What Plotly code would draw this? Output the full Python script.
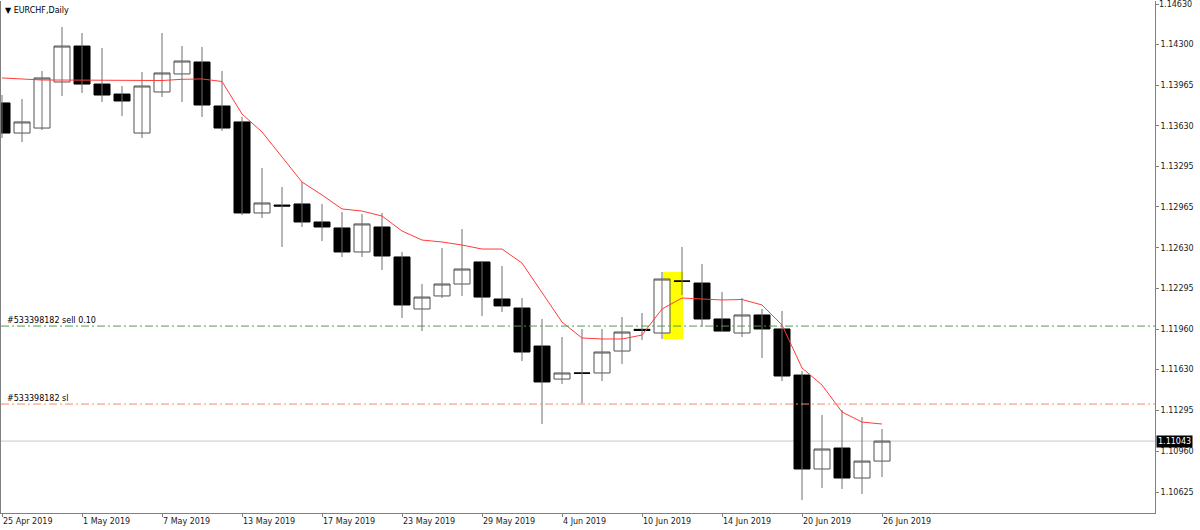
import plotly.graph_objects as go

# ---------------- data ----------------
dates = [
    "2019-04-25", "2019-04-26", "2019-04-29", "2019-04-30",
    "2019-05-01", "2019-05-02", "2019-05-03", "2019-05-06", "2019-05-07",
    "2019-05-08", "2019-05-09", "2019-05-10", "2019-05-13", "2019-05-14",
    "2019-05-15", "2019-05-16", "2019-05-17", "2019-05-20", "2019-05-21",
    "2019-05-22", "2019-05-23", "2019-05-24", "2019-05-27", "2019-05-28",
    "2019-05-29", "2019-05-30", "2019-05-31",
    "2019-06-03", "2019-06-04", "2019-06-05", "2019-06-06", "2019-06-07",
    "2019-06-10", "2019-06-11", "2019-06-12", "2019-06-13", "2019-06-14",
    "2019-06-17", "2019-06-18", "2019-06-19", "2019-06-20", "2019-06-21",
    "2019-06-24", "2019-06-25", "2019-06-26",
]

open_ = [1.13818, 1.13571, 1.13612, 1.13990, 1.14285, 1.13973, 1.13891, 1.13571, 1.13908,
         1.14056, 1.14154, 1.13793, 1.13662, 1.12915, 1.12980, 1.12989, 1.12841, 1.12792,
         1.12595, 1.12800, 1.12554, 1.12127, 1.12234, 1.12332, 1.12513, 1.12209, 1.12135,
         1.11823, 1.11552, 1.11602, 1.11602, 1.11782, 1.11960, 1.11930, 1.12357, 1.12340,
         1.12045, 1.11930, 1.12078, 1.11963, 1.11585, 1.10814, 1.10986, 1.10740, 1.10879]
high = [1.13883, 1.13850, 1.14080, 1.14441, 1.14392, 1.14269, 1.13957, 1.14072, 1.14392,
        1.14285, 1.14277, 1.14080, 1.13703, 1.13284, 1.13128, 1.13169, 1.12989, 1.12923,
        1.12907, 1.12915, 1.12595, 1.12332, 1.12628, 1.12783, 1.12521, 1.12480, 1.12217,
        1.12045, 1.11897, 1.11963, 1.11963, 1.12061, 1.12094, 1.12431, 1.12636, 1.12496,
        1.12266, 1.12217, 1.12127, 1.12111, 1.11618, 1.11257, 1.11298, 1.11241, 1.11142]
low = [1.13530, 1.13497, 1.13596, 1.13875, 1.13900, 1.13826, 1.13711, 1.13530, 1.13867,
       1.13826, 1.13703, 1.13588, 1.12898, 1.12874, 1.12636, 1.12800, 1.12685, 1.12554,
       1.12554, 1.12447, 1.12053, 1.11946, 1.12217, 1.12234, 1.12069, 1.12102, 1.11700,
       1.11183, 1.11511, 1.11355, 1.11536, 1.11676, 1.11872, 1.11881, 1.12242, 1.11979,
       1.11938, 1.11897, 1.11725, 1.11536, 1.10559, 1.10658, 1.10650, 1.10609, 1.10748]
close = [1.13571, 1.13662, 1.14023, 1.14285, 1.13973, 1.13883, 1.13834, 1.13957, 1.14064,
         1.14162, 1.13801, 1.13612, 1.12915, 1.12997, 1.12972, 1.12841, 1.12800, 1.12595,
         1.12825, 1.12562, 1.12160, 1.12225, 1.12332, 1.12455, 1.12225, 1.12152, 1.11774,
         1.11528, 1.11602, 1.11600, 1.11774, 1.11938, 1.11951, 1.12373, 1.12355, 1.12045,
         1.11946, 1.12078, 1.11963, 1.11577, 1.10814, 1.10978, 1.10740, 1.10879, 1.11043]

moving_avg = [1.14023, 1.14015, 1.14006, 1.14006, 1.14006, 1.14002, 1.14000, 1.14000, 1.14002,
              1.14012, 1.14015, 1.13994, 1.13727, 1.13580, 1.13374, 1.13169, 1.13063, 1.12948,
              1.12931, 1.12890, 1.12767, 1.12693, 1.12677, 1.12652, 1.12619, 1.12619, 1.12504,
              1.12258, 1.12020, 1.11889, 1.11881, 1.11881, 1.11913, 1.12127, 1.12217, 1.12209,
              1.12201, 1.12205, 1.12160, 1.11996, 1.11643, 1.11503, 1.11282, 1.11199, 1.11183]

x_tick_dates = ["2019-04-25", "2019-05-01", "2019-05-07", "2019-05-13", "2019-05-17", "2019-05-23",
                "2019-05-29", "2019-06-04", "2019-06-10", "2019-06-14", "2019-06-20", "2019-06-26"]
x_tick_labels = ["25 Apr 2019", "1 May 2019", "7 May 2019", "13 May 2019", "17 May 2019",
                 "23 May 2019", "29 May 2019", "4 Jun 2019", "10 Jun 2019", "14 Jun 2019",
                 "20 Jun 2019", "26 Jun 2019"]
y_tick_values = [1.14630, 1.14300, 1.13965, 1.13630, 1.13295, 1.12965, 1.12630,
                 1.12295, 1.11960, 1.11630, 1.11295, 1.10960, 1.10625]

symbol_title = "EURCHF,Daily"
order_label = "#533398182 sell 0.10"
sl_label = "#533398182 sl"
order_price = 1.11987
sl_price = 1.11347
bid_price = 1.11043
highlight_bar = 33

# ---------------- figure ----------------
FONT = "DejaVu Sans"
AXIS_GRAY = "#808080"
TEXT = "#1a1a1a"

fig = go.Figure()

# wicks (high-low), drawn first so the bodies cover them
wick_x, wick_y = [], []
for d, h, l in zip(dates, high, low):
    wick_x += [d, d, None]
    wick_y += [h, l, None]
fig.add_trace(go.Scatter(
    x=wick_x, y=wick_y, mode="lines",
    line=dict(color="#6e6e6e", width=1),
    showlegend=False, hoverinfo="skip", connectgaps=False,
))

# bodies
body_top = [max(o, c) for o, c in zip(open_, close)]
body_bot = [min(o, c) for o, c in zip(open_, close)]
fig.add_trace(go.Candlestick(
    x=dates, open=open_, high=body_top, low=body_bot, close=close,
    increasing=dict(line=dict(color="#505050", width=1), fillcolor="#ffffff"),
    decreasing=dict(line=dict(color="#000000", width=1), fillcolor="#000000"),
    whiskerwidth=0,
    showlegend=False,
    hoverinfo="skip",
))

fig.add_trace(go.Scatter(
    x=dates, y=moving_avg, mode="lines",
    line=dict(color="#ff3b3b", width=1),
    showlegend=False, hoverinfo="skip",
))

shapes = [
    dict(type="rect", xref="x", yref="y",
         x0=highlight_bar + 0.05, x1=highlight_bar + 1.05,
         y0=low[highlight_bar], y1=high[highlight_bar],
         fillcolor="#ffff00", line=dict(width=0), layer="below"),
    dict(type="line", xref="paper", yref="y", x0=0, x1=1, y0=order_price, y1=order_price,
         line=dict(color="#4c9e4c", width=1, dash="8px,3px,2px,3px"), layer="above"),
    dict(type="line", xref="paper", yref="y", x0=0, x1=1, y0=sl_price, y1=sl_price,
         line=dict(color="#f58c68", width=1, dash="8px,3px,2px,3px"), layer="above"),
    dict(type="line", xref="paper", yref="y", x0=0, x1=1, y0=bid_price, y1=bid_price,
         line=dict(color="#c8c8c8", width=1), layer="below"),
]

annotations = [
    dict(xref="paper", yref="paper", x=0.002, y=0.995, xanchor="left", yanchor="top",
         text="▼ " + symbol_title, showarrow=False,
         font=dict(family=FONT, size=8, color="#000000")),
    dict(xref="paper", yref="y", x=0.004, y=order_price, xanchor="left", yanchor="bottom",
         text=order_label, showarrow=False, borderpad=0,
         font=dict(family=FONT, size=8, color="#000000")),
    dict(xref="paper", yref="y", x=0.004, y=sl_price, xanchor="left", yanchor="bottom",
         text=sl_label, showarrow=False, borderpad=0,
         font=dict(family=FONT, size=8, color="#000000")),
    dict(xref="paper", yref="y", x=1, y=bid_price, xanchor="left", yanchor="middle",
         text=f"{bid_price:.5f}", showarrow=False, bgcolor="#000000", borderpad=1, xshift=1,
         font=dict(family=FONT, size=8, color="#ffffff")),
    # top tick label (plotly drops it at the very edge of the figure)
    dict(xref="paper", yref="y", x=1, y=y_tick_values[0], xanchor="left", yanchor="middle",
         text=f"{y_tick_values[0]:.5f}", showarrow=False, borderpad=0, xshift=3,
         font=dict(family=FONT, size=8, color=TEXT)),
]

fig.update_layout(
    width=1200, height=530,
    margin=dict(l=1, r=45, t=1, b=17),
    paper_bgcolor="#ffffff", plot_bgcolor="#ffffff",
    boxgap=0.2, boxgroupgap=0,
    shapes=shapes, annotations=annotations,
    hovermode=False,
    font=dict(family=FONT, size=8, color=TEXT),
)

fig.update_xaxes(
    type="category",
    range=[-0.05, 57.65],
    rangeslider=dict(visible=False),
    tickmode="array", tickvals=x_tick_dates, ticktext=x_tick_labels,
    ticklabelposition="outside right",
    ticks="outside", ticklen=3, tickcolor=AXIS_GRAY,
    showgrid=False, zeroline=False,
    showline=True, linecolor=AXIS_GRAY, linewidth=1,
    tickfont=dict(family=FONT, size=8, color=TEXT),
    fixedrange=True,
)

fig.update_yaxes(
    side="right",
    range=[1.104528, 1.146546],
    tickmode="array", tickvals=y_tick_values,
    ticktext=[f"{v:.5f}" for v in y_tick_values],
    ticks="outside", ticklen=3, tickcolor=AXIS_GRAY,
    showgrid=False, zeroline=False,
    showline=True, linecolor=AXIS_GRAY, linewidth=1, mirror=True,
    tickfont=dict(family=FONT, size=8, color=TEXT),
    fixedrange=True,
)

fig.write_html("out.html", config={"displayModeBar": False, "staticPlot": True})
